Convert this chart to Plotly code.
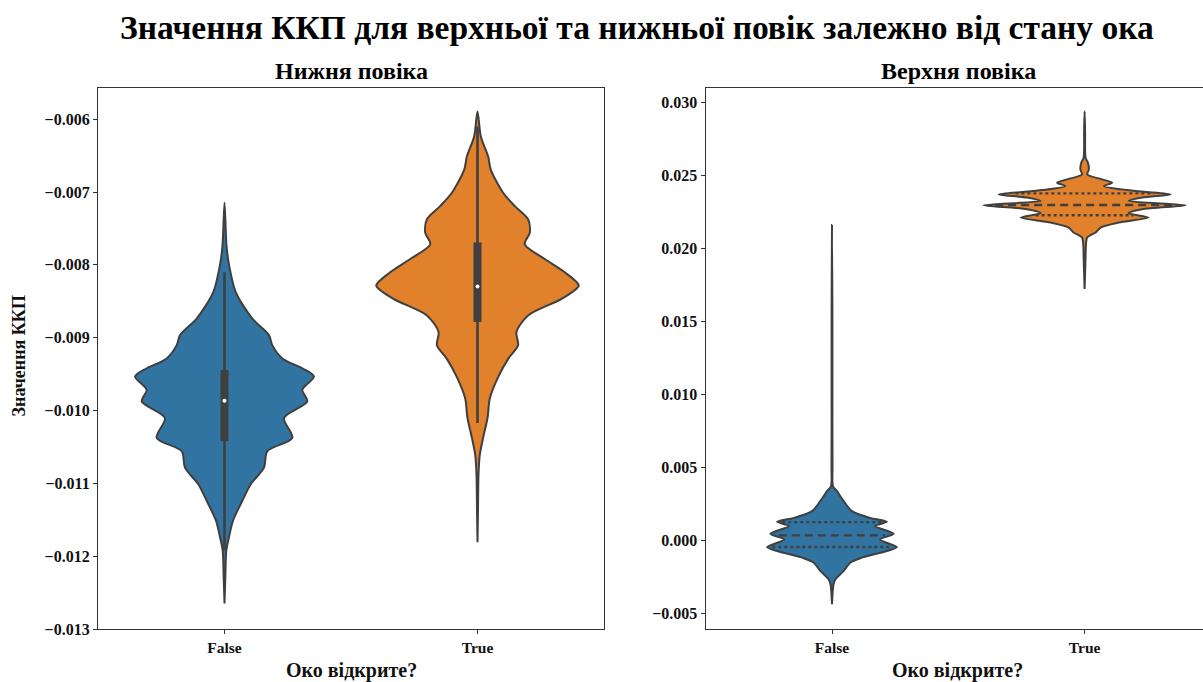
import numpy as np
import plotly.graph_objects as go

# Category labels (eye open?)
categories = ["False", "True"]

# Density profiles: value levels (top to bottom) and relative density (1 = widest violin in panel)
lower_false_vals = [-0.007146, -0.00774, -0.008011, -0.008374, -0.008738, -0.008966, -0.009102,
                    -0.009284, -0.009420, -0.009533, -0.009716, -0.009874, -0.010102, -0.010375,
                    -0.010557, -0.010784, -0.011012, -0.011239, -0.011512, -0.011739, -0.011921,
                    -0.012300, -0.012649]
lower_false_dens = [0.0, 0.02, 0.046, 0.111, 0.275, 0.44, 0.472, 0.571, 0.769, 0.884, 0.769, 0.818,
                    0.588, 0.67, 0.423, 0.39, 0.259, 0.176, 0.084, 0.044, 0.018, 0.008, 0.0]

lower_true_vals = [-0.005896, -0.006237, -0.006510, -0.006692, -0.007010, -0.007193, -0.007374,
                   -0.007556, -0.007716, -0.007920, -0.008102, -0.008285, -0.008466, -0.008694,
                   -0.008921, -0.009104, -0.009284, -0.009540, -0.009830, -0.010102, -0.010375,
                   -0.010603, -0.010876, -0.011350, -0.011809]
lower_true_dens = [0.0, 0.033, 0.105, 0.131, 0.253, 0.369, 0.5, 0.517, 0.467, 0.665, 0.863, 1.0,
                   0.83, 0.5, 0.385, 0.401, 0.306, 0.204, 0.122, 0.099, 0.055, 0.023, 0.01, 0.005, 0.0]

upper_false_vals = [0.02161, 0.01500, 0.01000, 0.00500, 0.00370, 0.00336, 0.00268, 0.00199, 0.00153,
                    0.00126, 0.00097, 0.00044, 0.00005, -0.00047, -0.00074, -0.00119, -0.00153,
                    -0.00210, -0.00267, -0.00302, -0.00438]
upper_false_dens = [0.0, 0.004, 0.004, 0.005, 0.01, 0.049, 0.116, 0.198, 0.375, 0.543, 0.425, 0.61,
                    0.474, 0.642, 0.543, 0.296, 0.182, 0.116, 0.034, 0.015, 0.0]

upper_true_vals = [0.02939, 0.02800, 0.02621, 0.02587, 0.02541, 0.02507, 0.02473, 0.02450, 0.02427,
                   0.02393, 0.02370, 0.02348, 0.02325, 0.02295, 0.02268, 0.02241, 0.02211, 0.02177,
                   0.02143, 0.02109, 0.02075, 0.02041, 0.01900, 0.01722]
upper_true_dens = [0.0, 0.005, 0.01, 0.033, 0.042, 0.026, 0.174, 0.273, 0.191, 0.504, 0.85, 0.569,
                   0.435, 1.0, 0.569, 0.435, 0.632, 0.336, 0.158, 0.109, 0.026, 0.015, 0.008, 0.0]

# Box summaries for the lower eyelid: [whisker low, q1, median, q3, whisker high]
lower_false_box = [-0.01192, -0.01042, -0.009866, -0.009443, -0.00810]
lower_true_box = [-0.010171, -0.008783, -0.008297, -0.007692, -0.00610]

# Quartiles for the upper eyelid: [q1, median, q3]
upper_false_quart = [-0.00047, 0.00033, 0.00124]
upper_true_quart = [0.02227, 0.02297, 0.02377]

BLUE = "#3274a1"
ORANGE = "#e1812c"
EDGE = "#3f3f3f"
HALF = 0.4
FONT = "Liberation Serif, Times New Roman, serif"

fig = go.Figure()


def violin(vals, dens, pos, color, xa, ya):
    v = np.asarray(vals)
    d = np.asarray(dens) * HALF
    xs = np.concatenate([pos - d, (pos + d)[::-1]])
    ys = np.concatenate([v, v[::-1]])
    fig.add_trace(go.Scatter(x=xs, y=ys, mode="lines", fill="toself", fillcolor=color,
                             line=dict(color=EDGE, width=2, shape="spline", smoothing=0.8),
                             xaxis=xa, yaxis=ya, hoverinfo="skip", showlegend=False))


def inner_box(box, pos, xa, ya):
    lo, q1, med, q3, hi = box
    fig.add_trace(go.Scatter(x=[pos, pos], y=[lo, hi], mode="lines",
                             line=dict(color=EDGE, width=2.6), xaxis=xa, yaxis=ya,
                             hoverinfo="skip", showlegend=False))
    fig.add_trace(go.Scatter(x=[pos, pos], y=[q1, q3], mode="lines",
                             line=dict(color=EDGE, width=8), xaxis=xa, yaxis=ya,
                             hoverinfo="skip", showlegend=False))
    fig.add_trace(go.Scatter(x=[pos], y=[med], mode="markers",
                             marker=dict(color="white", size=4, line=dict(width=0)),
                             xaxis=xa, yaxis=ya, hoverinfo="skip", showlegend=False))


def quartile_lines(quart, vals, dens, pos, xa, ya):
    v = np.asarray(vals)[::-1]
    d = np.asarray(dens)[::-1]
    for i, q in enumerate(quart):
        hw = np.interp(q, v, d) * HALF * 0.92
        dash = "8px,5px" if i == 1 else "3px,3px"
        fig.add_trace(go.Scatter(x=[pos - hw, pos + hw], y=[q, q], mode="lines",
                                 line=dict(color=EDGE, width=2.4, dash=dash),
                                 xaxis=xa, yaxis=ya, hoverinfo="skip", showlegend=False))


# Lower eyelid panel
violin(lower_false_vals, lower_false_dens, 0, BLUE, "x", "y")
violin(lower_true_vals, lower_true_dens, 1, ORANGE, "x", "y")
inner_box(lower_false_box, 0, "x", "y")
inner_box(lower_true_box, 1, "x", "y")

# Upper eyelid panel
violin(upper_false_vals, upper_false_dens, 0, BLUE, "x2", "y2")
violin(upper_true_vals, upper_true_dens, 1, ORANGE, "x2", "y2")
quartile_lines(upper_false_quart, upper_false_vals, upper_false_dens, 0, "x2", "y2")
quartile_lines(upper_true_quart, upper_true_vals, upper_true_dens, 1, "x2", "y2")

W, H = 1203, 682
TXT = "#111111"
ytickfont = dict(family=FONT, size=16, color=TXT, weight="bold")
xtickfont = dict(family=FONT, size=15.5, color=TXT, weight="bold")
axis_common = dict(showgrid=False, zeroline=False, showline=True, linecolor="#333333",
                   linewidth=1.3, ticks="outside", ticklen=4, tickwidth=1, tickcolor="#333333")

fig.update_layout(
    width=W, height=H + 8,
    margin=dict(l=0, r=0, t=0, b=0),
    paper_bgcolor="white", plot_bgcolor="white",
    font=dict(family=FONT, color=TXT),
    xaxis=dict(domain=[98 / W, 604 / W], range=[-0.5, 1.5], tickvals=[0, 1],
               ticktext=categories, mirror=True, anchor="y", tickfont=xtickfont, **axis_common),
    yaxis=dict(domain=[1 - 630 / H, 1 - 88 / H], range=[-0.013, -0.00557], tickformat=".3f",
               dtick=0.001, tick0=-0.013, mirror=True, anchor="x", tickfont=ytickfont,
               **axis_common),
    xaxis2=dict(domain=[705.7 / W, 1.0], range=[-0.5, 1.4687], tickvals=[0, 1],
                ticktext=categories, mirror=True, anchor="y2", tickfont=xtickfont, **axis_common),
    yaxis2=dict(domain=[1 - 630 / H, 1 - 88 / H], range=[-0.00609, 0.0310], tickformat=".3f",
                dtick=0.005, tick0=0, mirror=False, anchor="x2", tickfont=ytickfont,
                **axis_common),
)

annots = [
    dict(text="<b>Значення ККП для верхньої та нижньої повік залежно від стану ока</b>",
         x=637 / W, y=1 - 28 / H, font=dict(family=FONT, size=33.5, color="#000000")),
    dict(text="<b>Нижня повіка</b>", x=351 / W, y=1 - 71 / H,
         font=dict(family=FONT, size=24, color="#000000")),
    dict(text="<b>Верхня повіка</b>", x=958 / W, y=1 - 71 / H,
         font=dict(family=FONT, size=24, color="#000000")),
    dict(text="<b>Око відкрите?</b>", x=351 / W, y=1 - 671 / H,
         font=dict(family=FONT, size=20, color=TXT)),
    dict(text="<b>Око відкрите?</b>", x=957 / W, y=1 - 671 / H,
         font=dict(family=FONT, size=20, color=TXT)),
    dict(text="<b>Значення ККП</b>", x=19 / W, y=1 - 357 / H, textangle=-90,
         font=dict(family=FONT, size=18, color=TXT)),
]
for a in annots:
    fig.add_annotation(xref="paper", yref="paper", showarrow=False,
                       xanchor="center", yanchor="middle", **a)

fig.write_html("out.html")
